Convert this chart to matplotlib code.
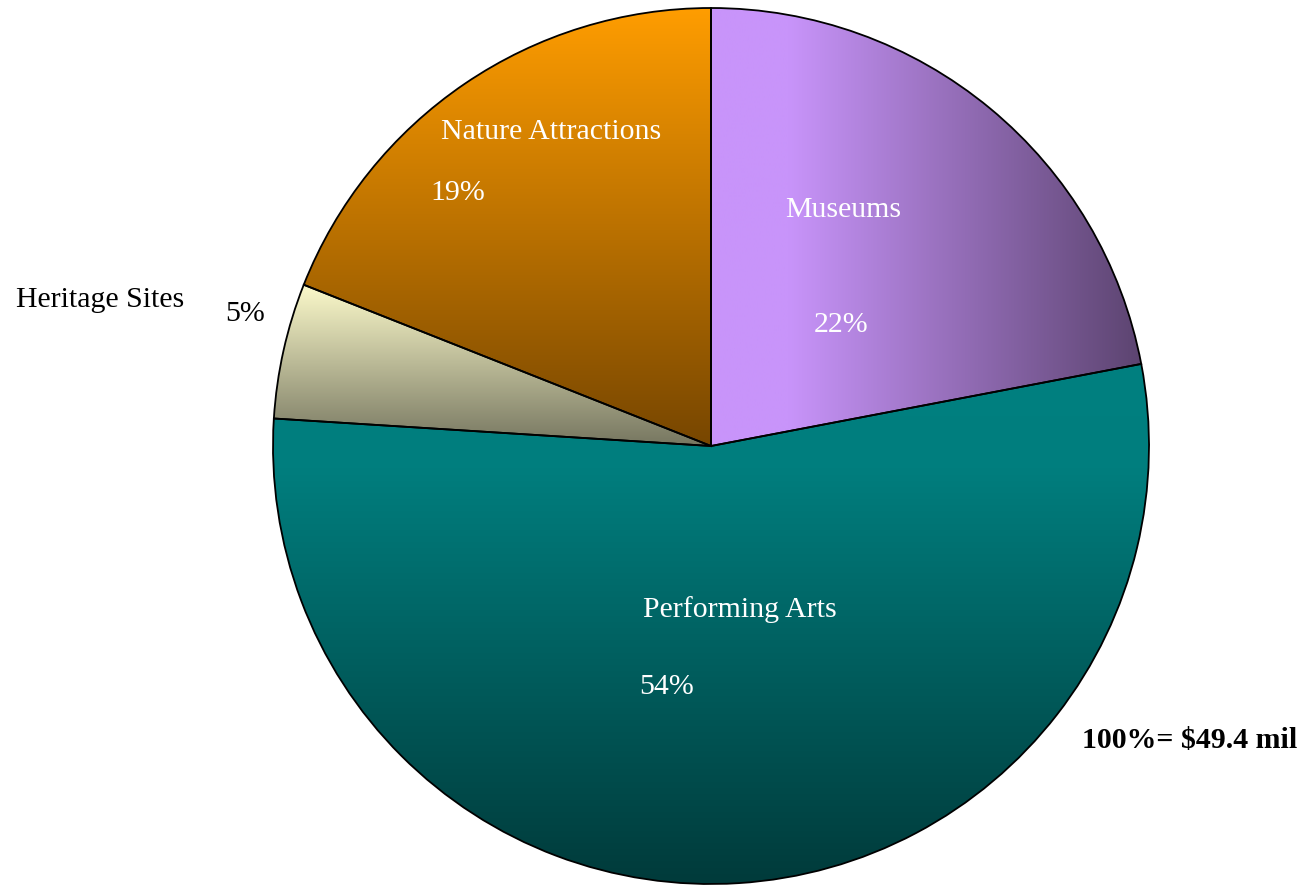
import matplotlib.pyplot as plt
import numpy as np
from matplotlib.colors import LinearSegmentedColormap

plt.rcParams['font.family'] = ['Liberation Serif', 'DejaVu Serif']

# revenue share by attraction type
categories = ['Museums', 'Performing Arts', 'Heritage Sites', 'Nature Attractions']
shares = [22, 54, 5, 19]
total_note = '100%= $49.4 mil'

# gradient stops per slice: (direction, [(pos, colour), ...])
gradients = {
    'Museums': ('h', [(0.0, '#c894fa'), (0.18, '#c894fa'), (1.0, '#5c4470')]),
    'Performing Arts': ('v', [(0.0, '#008080'), (0.2, '#007e7e'), (1.0, '#003a3a')]),
    'Heritage Sites': ('v', [(0.0, '#fcfacb'), (1.0, '#767660')]),
    'Nature Attractions': ('v', [(0.0, '#ff9d00'), (1.0, '#774600')]),
}

W, H = 1301, 885
fig = plt.figure(figsize=(W / 100, H / 100), dpi=100)
ax = fig.add_axes([0, 0, 1, 1])

cx, cy, r = 711, H - 446, 438
wedges, _ = ax.pie(shares, startangle=90, counterclock=False, center=(cx, cy),
                   radius=r, frame=True,
                   wedgeprops=dict(edgecolor='black', linewidth=1.3))

for w, name in zip(wedges, categories):
    direction, stops = gradients[name]
    cmap = LinearSegmentedColormap.from_list(name, stops)
    v = w.get_path().vertices
    x0, x1 = v[:, 0].min(), v[:, 0].max()
    y0, y1 = v[:, 1].min(), v[:, 1].max()
    ramp = np.linspace(0, 1, 256)
    if direction == 'h':
        img = ramp[np.newaxis, :]
        origin = 'lower'
    else:
        img = ramp[:, np.newaxis]
        origin = 'upper'
    im = ax.imshow(img, cmap=cmap, extent=[x0, x1, y0, y1], origin=origin,
                   aspect='auto', interpolation='bilinear', zorder=1)
    im.set_clip_path(w)
    w.set_facecolor('none')
    w.set_zorder(2)

ax.set_xlim(0, W)
ax.set_ylim(0, H)
ax.axis('off')

fs = 21.5
# labels inside the slices (white) and outside (black)
label_pos = {
    'Museums': ((843, 210), (841, 325), 'white'),
    'Nature Attractions': ((551, 132), (458, 193), 'white'),
    'Performing Arts': ((740, 610), (667, 687), 'white'),
    'Heritage Sites': ((100, 300), (245, 314), 'black'),
}
for name, val in zip(categories, shares):
    (nx, ny), (px, py), col = label_pos[name]
    ax.text(nx, H - ny, name, color=col, fontsize=fs, ha='center', va='center', zorder=3)
    ax.text(px, H - py, f'{val}%', color=col, fontsize=fs, ha='center', va='center', zorder=3)

ax.text(1190, H - 741, total_note, fontsize=fs, fontweight='bold', ha='center',
        va='center', zorder=3)

fig.savefig('out.png', dpi=100)
